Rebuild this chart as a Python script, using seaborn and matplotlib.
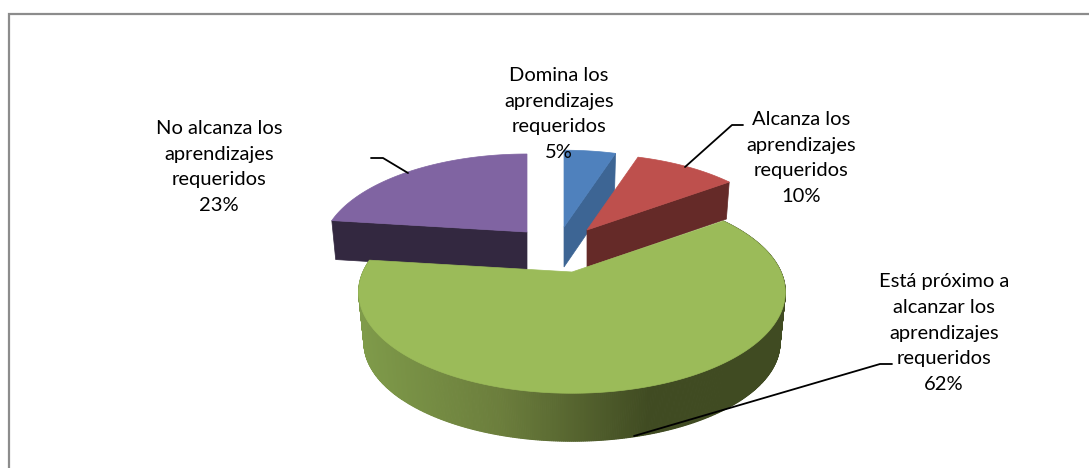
"""3D exploded pie: logro de aprendizajes."""

import matplotlib
matplotlib.use("Agg")
import matplotlib.pyplot as plt
import numpy as np
import seaborn as sns

categories = [
    "Domina los\naprendizajes\nrequeridos",
    "Alcanza los\naprendizajes\nrequeridos",
    "Está próximo a\nalcanzar los\naprendizajes\nrequeridos",
    "No alcanza los\naprendizajes\nrequeridos",
]
percentages = [5, 10, 62, 23]

top_colors = ["#4F81BD", "#BE504D", "#9BBB59", "#8064A2"]
cut_colors = ["#3D6594", "#652A28", "#404B22", "#332840"]

sns.set_style("white")
plt.rcParams["font.family"] = ["Lato", "DejaVu Sans"]

WIDTH, HEIGHT = 1089, 468
RX, RY, PERSP = 209.0, 97.0, 0.2
CENTER = (572.0, 272.0)

# slice index -> apex, scale and depth of the exploded slice
SLICE_LAYOUT = {
    0: ((564.0, 227.0), 0.95, 40.0),
    1: ((587.0, 230.0), 0.94, 37.0),
    2: (CENTER, 1.0, 51.0),
    3: ((527.0, 232.0), 0.965, 39.0),
}
LABEL_POS = [(559, 114), (801, 158), (944, 333), (219, 167)]
LEADERS = [
    [(685, 167), (732, 125), (743, 125)],
    [(634, 436), (880, 364), (892, 364)],
    [(408, 173), (383, 158), (371, 158)],
]


def rim(theta_deg, apex, scale, bottom=0.0):
    """Project pie angles (clockwise from 12 o'clock) to picture pixels."""
    t = np.radians(theta_deg)
    xs, ys = np.sin(t), np.cos(t)
    f = scale / (1 + PERSP * ys)
    if bottom:
        f = f * 0.975
    return apex[0] + RX * xs * f, apex[1] - RY * ys * f + bottom


fig = plt.figure(figsize=(WIDTH / 100, HEIGHT / 100), dpi=100)
ax = fig.add_axes([0, 0, 1, 1])
ax.set_xlim(0, WIDTH)
ax.set_ylim(HEIGHT, 0)
ax.axis("off")

# chart frame, open at the right and bottom of the crop
ax.plot([9, 9, WIDTH], [HEIGHT, 14, 14], color="#8C8C8C", lw=1.6, solid_joinstyle="miter")

edges = np.concatenate([[0], np.cumsum(percentages)]) / sum(percentages) * 360
shade = sns.blend_palette(["#7F9B4A", "#6B7D3C", "#404B22"], 256, as_cmap=True)

for i in [0, 3, 1, 2]:
    start, end = edges[i], edges[i + 1]
    apex, scale, depth = SLICE_LAYOUT[i]
    theta = np.linspace(start, end, 500)
    rx_top, ry_top = rim(theta, apex, scale)

    if i == 2:
        # outer wall of the big slice, shaded strip by strip from left to right
        bx, by = rim(theta, apex, scale, bottom=depth)
        for j in range(len(theta) - 1):
            pos = np.clip((rx_top[j] - 358) / 292, 0, 1)
            ax.fill(
                [rx_top[j], rx_top[j + 1], bx[j + 1], bx[j]],
                [ry_top[j], ry_top[j + 1], by[j + 1], by[j]],
                color=shade(pos), lw=0.8,
            )
    else:
        # cut face: clockwise edge for blue and red, counter-clockwise for purple
        edge = start if i == 3 else end
        ex, ey = rim(np.array([edge]), apex, scale)
        ax.fill(
            [apex[0], ex[0], ex[0] + (apex[0] - ex[0]) * 0.02, apex[0]],
            [apex[1], ey[0], ey[0] + depth, apex[1] + depth],
            color=cut_colors[i], lw=0.5,
        )
    ax.fill(
        np.concatenate([[apex[0]], rx_top]),
        np.concatenate([[apex[1]], ry_top]),
        color=top_colors[i], lw=0.5,
    )

for pts in LEADERS:
    ax.plot(*zip(*pts), color="black", lw=1.3)

for cat, pct, (x, y) in zip(categories, percentages, LABEL_POS):
    ax.text(
        x, y, f"{cat}\n{pct}%", ha="center", va="center",
        fontsize=14.5, linespacing=1.62, color="black",
    )

fig.savefig("out.png", dpi=100)
